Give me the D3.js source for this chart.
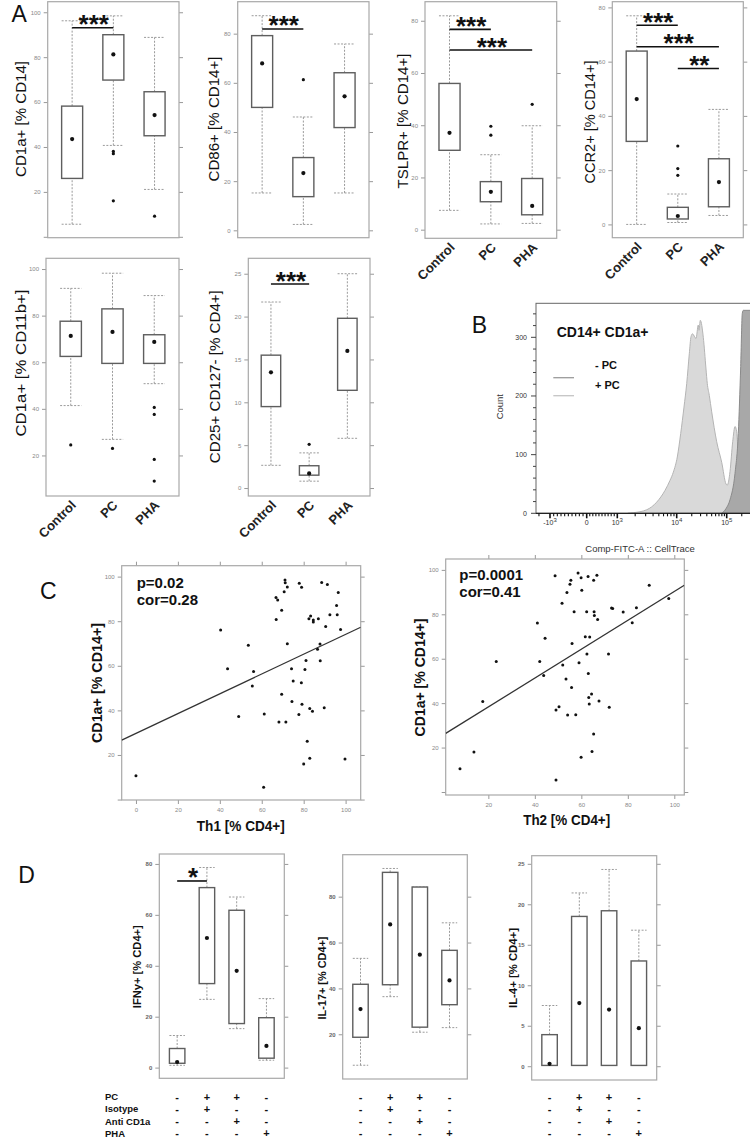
<!DOCTYPE html>
<html><head><meta charset="utf-8">
<script src="https://cdn.jsdelivr.net/npm/d3@7"></script>
<style>body{margin:0;background:#fff}svg{display:block}</style>
</head><body><svg id="c" width="750" height="1139"></svg>
<script>
// ---------------- DATA ----------------
const groupsA = ["Control", "PC", "PHA"];
// five-number summaries: [lower whisker, Q1, median, Q3, upper whisker]
const cd1aCD14Stats = [[5.6, 26, 43.5, 58.2, 96.2], [40.7, 69.8, 81.2, 90, 98.4], [21.1, 45, 54.2, 64.6, 88.8]];
const cd1aCD14Out = [[], [38, 37, 16], [9.2]];
const cd1aCD14Sig = [["Control", "PC", 93.1, "***"]];
const cd86Stats = [[15.2, 50, 67.9, 79.2, 87.3], [2.4, 13.7, 23.3, 29.6, 46.1], [15.2, 41.8, 54.5, 64.1, 75.8]];
const cd86Out = [[], [61.3], []];
const cd86Sig = [["Control", "PC", 81.9, "***"]];
const tslprStats = [[7.4, 30.4, 37.1, 56, 81.9], [2.2, 10.7, 14.5, 18.4, 28.7], [2.4, 5.7, 9.1, 19.6, 39.8]];
const tslprOut = [[], [39.6, 36.2], [48]];
const tslprSig = [["Control", "PC", 76.7, "***"], ["Control", "PHA", 68.8, "***"]];
const ccr2Stats = [[0, 30.6, 46.2, 63.9, 76.9], [0.7, 2, 3.1, 6.3, 11.2], [3.3, 6.5, 15.6, 24.2, 42.4]];
const ccr2Out = [[], [28.9, 20.6, 18.1], []];
const ccr2Sig = [["Control", "PC", 73.4, "***"], ["Control", "PHA", 65.5, "***"], ["PC", "PHA", 57.5, "**"]];
const cd1aCD11bStats = [[41.4, 62.5, 71.3, 77.6, 91.7], [26.9, 59.5, 73, 82.9, 98.2], [50.8, 59.5, 68.7, 71.8, 88.6]];
const cd1aCD11bOut = [[24.5], [23], [40.6, 37.6, 18.3, 9]];
const tregStats = [[2.65, 9.5, 13.5, 15.5, 21.7], [0.8, 1.5, 1.7, 2.6, 4.1], [5.8, 11.4, 16, 19.8, 25]];
const tregOut = [[], [5.1], []];
const tregSig = [["Control", "PC", 23.8, "***"]];

const ticks0to100 = [0, 20, 40, 60, 80, 100];
const ticks0to80 = [0, 20, 40, 60, 80];
const ticks0to25 = [0, 5, 10, 15, 20, 25];

// Panel B: flow histogram (FITC intensity, count)
const plusPcIntensity = [1500, 1858, 3126, 4603, 6353, 7708, 8770, 10280, 12020, 13990, 15850, 17870, 19320, 20700, 24320, 27040, 27930, 29650, 34040, 38550, 40930, 44870, 50120, 63100, 79430, 96830, 102800, 116400, 131800, 146600, 158500, 170600, 193200, 232300, 320600];
const plusPcCount = [0, 1, 6, 19, 39, 56, 70, 96, 136, 181, 221, 272, 301, 306, 298, 321, 312, 329, 300, 246, 221, 201, 173, 122, 87, 50, 48, 71, 122, 148, 139, 99, 80, 60, 40];
const minusPcIntensity = [79430, 96830, 116400, 146600, 170600, 190500, 205100, 214800, 320600];
const minusPcCount = [0, 8, 23, 68, 136, 250, 341, 346, 346];
const bCountTicks = [0, 100, 200, 300];
const bMajorTicks = [-1000, 0, 1000, 10000, 100000];
const bMajorLabels = [["-10", "3"], ["0", ""], ["10", "3"], ["10", "4"], ["10", "5"]];

// Panel C: scatter
const th1X = [0, 40.4, 43.7, 49, 53.6, 55.5, 56.1, 60.9, 61.2, 66.9, 66.8, 67.6, 68.2, 69.5, 69.5, 70.7, 71.2, 71.1, 72.2, 71.5, 72.2, 74.2, 74.4, 75, 77.9, 79, 77.7, 78.9, 79.2, 80.6, 81.1, 81.7, 80, 82.5, 83.3, 84.6, 84.6, 82.9, 84.2, 82.9, 87, 86.6, 87.8, 87.9, 88.6, 91.3, 90.5, 92.5, 89.8, 96.5, 95.7, 96, 97.6, 99.7];
const th1Y = [10.7, 76.1, 58.7, 37.2, 69.2, 50.9, 57.4, 5.5, 38.4, 80.8, 90.6, 89.5, 34.8, 84.9, 47.2, 93.2, 97.3, 98.5, 95.3, 34.8, 69.9, 58.7, 44, 53.2, 97, 95.2, 38.2, 52.4, 42.7, 58.3, 62.4, 26.1, 15.9, 81.1, 82.3, 80.5, 79.6, 40.9, 39.6, 18.5, 81.1, 67.4, 69.8, 62.3, 97.4, 96.5, 77.6, 82.9, 41.2, 92.9, 87, 82.9, 76.3, 18.2];
const th1Fit = [29.7, 0.444]; // intercept, slope
const th2X = [7.8, 13.8, 17.6, 23.4, 41.1, 42.1, 44.4, 48.7, 43.8, 49.1, 50.4, 49.1, 51.7, 52, 53.4, 53.8, 55.1, 55.5, 54.1, 56, 56.9, 55.8, 57.6, 58.6, 59.9, 60.2, 59, 59.9, 61.7, 62.3, 62.4, 62.9, 63, 63.2, 63.4, 63.6, 64.4, 64.6, 65.3, 65.3, 65.5, 65.6, 66.7, 67, 67.6, 71.7, 72, 73, 73.5, 78, 81.9, 83.7, 89.2, 97.6];
const th2Y = [10.5, 18, 40.7, 58.7, 76.1, 58.7, 69.2, 97.4, 52.4, 36.9, 38.4, 5.4, 85, 57.2, 50.9, 89.8, 93.5, 95.3, 34.7, 66.9, 81.1, 47, 34.8, 98.6, 96.5, 90.8, 58.2, 15.6, 69.9, 81.2, 62.1, 97, 53.3, 42.6, 39.6, 69.8, 44.1, 18.2, 26.1, 95.3, 81.2, 79.5, 97.6, 77.7, 41, 62.1, 38.1, 82.8, 82.6, 81, 76.2, 82.9, 93.1, 87.1];
const th2Fit = [25.3, 0.65];

// Panel D
const condGroups = ["g1", "g2", "g3", "g4"];
const condRows = ["PC", "Isotype", "Anti CD1a", "PHA"];
const condSigns = [["-", "+", "+", "-"], ["-", "+", "-", "-"], ["-", "-", "+", "-"], ["-", "-", "-", "+"]];
const ifngStats = [[0.9, 1.7, 2.2, 7.5, 12.6], [26.8, 33, 50.9, 70.7, 78.6], [15.3, 17.3, 38, 61.8, 67], [2.9, 3.7, 8.5, 19.6, 27.1]];
const ifngSig = [["g1", "g2", 73.3, "*"]];
const il17Stats = [[6.5, 18.7, 31, 41.8, 53.1], [36.4, 41.6, 67.9, 90.6, 92.3], [20.9, 23.1, 54.7, 84.2, 84.2], [22.9, 32.9, 43.5, 56.6, 68.6]];
const il4Stats = [[0.1, 0.1, 0.3, 3.9, 7.5], [0.1, 0.1, 7.8, 18.5, 21.4], [0.1, 0.1, 7, 19.2, 24.3], [0.1, 0.1, 4.7, 13, 16.8]];

// ---------------- DRAWING ----------------
const F = '"Liberation Sans", Arial, Helvetica, sans-serif';
const svg = d3.select("#c").attr("font-family", F);

function styleAx(g, size, color, weight) {
  g.attr("font-family", F).attr("font-size", size);
  g.select(".domain").remove();
  g.selectAll(".tick line").attr("stroke", "#999");
  g.selectAll(".tick text").attr("fill", color).attr("font-weight", weight || "normal");
}
function vLabel(text, cx, cy, size, weight, len) {
  svg.append("text").attr("transform", `translate(${cx},${cy}) rotate(-90)`)
    .attr("text-anchor", "middle").attr("dominant-baseline", "central")
    .attr("font-size", size).attr("font-weight", weight).attr("fill", "#111")
    .attr("textLength", len).attr("lengthAdjust", "spacingAndGlyphs").text(text);
}
function panelLetter(t, x, y) {
  svg.append("text").attr("x", x).attr("y", y).attr("font-size", 23).attr("fill", "#111").text(t);
}

function boxPanel(c) {
  const [x0, y0, x1, y1] = c.frame;
  const x = d3.scalePoint().domain(c.cats).range([x0, x1]).padding(c.pad);
  const y = d3.scaleLinear().domain(c.domain).range([y1, y0]);
  const bw = x.step() * c.bw;
  const g = svg.append("g");
  g.append("g").attr("transform", `translate(${x0},0)`)
    .call(d3.axisLeft(y).tickValues(c.ticks).tickSize(4).tickPadding(3)
      .tickFormat(d => (c.noLabel || []).includes(d) ? "" : d))
    .call(s => styleAx(s, c.tickFont || 6, c.tickColor || "#888", c.tickWeight));
  g.append("g").attr("transform", `translate(${x1},0)`)
    .call(d3.axisRight(y).tickValues(c.ticks).tickSize(4).tickFormat(""))
    .call(s => styleAx(s, 6, "#888"));
  g.append("rect").attr("x", x0).attr("y", y0).attr("width", x1 - x0).attr("height", y1 - y0)
    .attr("fill", "none").attr("stroke", "#a8a8a8").attr("stroke-width", 1.2);
  const dash = "2,1.5";
  c.stats.forEach((s, i) => {
    const cx = x(c.cats[i]);
    const wl = (a, b) => g.append("line").attr("x1", cx).attr("x2", cx).attr("y1", y(a)).attr("y2", y(b))
      .attr("stroke", "#9a9a9a").attr("stroke-dasharray", dash);
    wl(s[0], s[1]); wl(s[3], s[4]);
    [s[0], s[4]].forEach(v => g.append("line").attr("x1", cx - bw / 2).attr("x2", cx + bw / 2)
      .attr("y1", y(v)).attr("y2", y(v)).attr("stroke", "#9a9a9a").attr("stroke-dasharray", dash));
    g.append("rect").attr("x", cx - bw / 2).attr("y", y(s[3])).attr("width", bw)
      .attr("height", Math.max(0.5, y(s[1]) - y(s[3])))
      .attr("fill", "#fff").attr("stroke", "#5e5e5e").attr("stroke-width", 1.4);
    g.append("circle").attr("cx", cx).attr("cy", y(s[2])).attr("r", 2.1).attr("fill", "#111");
    ((c.outs || [])[i] || []).forEach(v => g.append("circle").attr("cx", cx).attr("cy", y(v)).attr("r", 1.6).attr("fill", "#111"));
  });
  (c.sig || []).forEach(([a, b, v, lab]) => {
    const yy = y(v);
    g.append("line").attr("x1", x(a)).attr("x2", x(b)).attr("y1", yy).attr("y2", yy)
      .attr("stroke", "#111").attr("stroke-width", 1.6);
    g.append("text").attr("x", (x(a) + x(b)) / 2 + 1).attr("y", yy + 5.5).attr("text-anchor", "middle")
      .attr("font-size", 26).attr("font-weight", "bold").attr("fill", "#111").text(lab);
  });
  if (c.xlab) c.cats.forEach(cat => g.append("text")
    .attr("transform", `translate(${x(cat) + 6},${y1 + 10}) rotate(-45)`)
    .attr("text-anchor", "end").attr("font-size", 13).attr("font-weight", "bold").attr("fill", "#222").text(cat));
  const L = c.label;
  vLabel(L[0], L[1], L[2], L[3], L[4], L[5]);
  return x;
}

// ---- Panel A ----
panelLetter("A", 11.5, 21.7);
boxPanel({cats: groupsA, stats: cd1aCD14Stats, outs: cd1aCD14Out, sig: cd1aCD14Sig, frame: [47.7, 1.7, 179, 237.7],
  domain: [-0.4, 104.7], ticks: ticks0to100, noLabel: [0], pad: 0.593, bw: 0.51,
  label: ["CD1a+ [% CD14]", 20.8, 119, 15, "normal", 116]});
boxPanel({cats: groupsA, stats: cd86Stats, outs: cd86Out, sig: cd86Sig, frame: [237.7, 1.7, 369, 237.7],
  domain: [-3, 93], ticks: ticks0to80, pad: 0.593, bw: 0.51,
  label: ["CD86+ [% CD14+]", 213.3, 119, 15, "normal", 125]});
boxPanel({cats: groupsA, stats: tslprStats, outs: tslprOut, sig: tslprSig, frame: [425, 1.7, 556.7, 238.3],
  domain: [-3.3, 87.3], ticks: ticks0to80, pad: 0.593, bw: 0.51, xlab: true,
  label: ["TSLPR+ [% CD14+]", 402, 121, 15, "normal", 135]});
boxPanel({cats: groupsA, stats: ccr2Stats, outs: ccr2Out, sig: ccr2Sig, frame: [612.3, 1.7, 743.3, 237.7],
  domain: [-4.9, 82.1], ticks: ticks0to80, pad: 0.593, bw: 0.51, xlab: true,
  label: ["CCR2+ [% CD14+]", 589, 122, 15, "normal", 123]});
boxPanel({cats: groupsA, stats: cd1aCD11bStats, outs: cd1aCD11bOut, frame: [46, 258.3, 179, 496],
  domain: [2.6, 104.6], ticks: [20, 40, 60, 80, 100], pad: 0.593, bw: 0.51, xlab: true,
  label: ["CD1a+ [% CD11b+]", 20, 363, 15, "normal", 147]});
boxPanel({cats: groupsA, stats: tregStats, outs: tregOut, sig: tregSig, frame: [248.3, 258.3, 370, 496],
  domain: [-0.93, 26.8], ticks: ticks0to25, pad: 0.593, bw: 0.51, xlab: true,
  label: ["CD25+ CD127- [% CD4+]", 214, 376.7, 15, "normal", 173]});

// ---- Panel B ----
panelLetter("B", 471.7, 333.3);
(function () {
  const fr = [536, 303.3, 760, 513.3];
  const disp = v => Math.abs(v) <= 1000 ? v / 1000 : Math.sign(v) * (1 + Math.log10(Math.abs(v) / 1000));
  const bx = d3.scaleLinear().domain([-1, 0, 1, 2, 3]).range([550, 586.7, 617.3, 676.7, 726.7]);
  const by = d3.scaleLinear().domain([0, 358]).range([fr[3], fr[1]]);
  const g = svg.append("g");
  g.append("clipPath").attr("id", "bclip").append("rect")
    .attr("x", fr[0]).attr("y", fr[1]).attr("width", fr[2] - fr[0]).attr("height", fr[3] - fr[1]);
  const area = d3.area().x(d => bx(disp(d[0]))).y0(by(0)).y1(d => by(d[1])).curve(d3.curveMonotoneX);
  const plus = plusPcIntensity.map((v, i) => [v, plusPcCount[i]]);
  const minus = minusPcIntensity.map((v, i) => [v, minusPcCount[i]]);
  const hg = g.append("g").attr("clip-path", "url(#bclip)");
  hg.append("path").datum(plus).attr("d", area).attr("fill", "#d9d9d9").attr("stroke", "#b4b4b4").attr("stroke-width", 1);
  hg.append("path").datum(minus).attr("d", area).attr("fill", "#a8a8a8").attr("stroke", "#8a8a8a").attr("stroke-width", 1);
  g.append("rect").attr("x", fr[0]).attr("y", fr[1]).attr("width", fr[2] - fr[0]).attr("height", fr[3] - fr[1])
    .attr("fill", "none").attr("stroke", "#666").attr("stroke-width", 1);
  g.append("line").attr("x1", fr[0]).attr("x2", fr[2]).attr("y1", fr[3]).attr("y2", fr[3]).attr("stroke", "#222").attr("stroke-width", 1.2);
  // y axis
  const minorY = d3.range(0, 358, 20);
  g.selectAll(".bym").data(minorY).join("line").attr("x1", fr[0]).attr("x2", d => fr[0] - (bCountTicks.includes(d) ? 5 : 3))
    .attr("y1", d => by(d)).attr("y2", d => by(d)).attr("stroke", "#444");
  g.selectAll(".byl").data(bCountTicks).join("text").attr("x", fr[0] - 9).attr("y", d => by(d) + 2.5)
    .attr("text-anchor", "end").attr("font-size", 7).attr("fill", "#333").text(d => d);
  // x axis
  const minorX = [-2000, ...d3.range(-900, 1000, 100).filter(v => v !== 0), ...d3.range(2000, 10000, 1000),
    ...d3.range(20000, 100000, 10000), 200000];
  g.selectAll(".bxm").data(minorX).join("line").attr("x1", d => bx(disp(d))).attr("x2", d => bx(disp(d)))
    .attr("y1", fr[3]).attr("y2", fr[3] + 3).attr("stroke", "#111").attr("stroke-width", 1.1);
  g.selectAll(".bxM").data(bMajorTicks).join("line").attr("x1", d => bx(disp(d))).attr("x2", d => bx(disp(d)))
    .attr("y1", fr[3]).attr("y2", fr[3] + 5).attr("stroke", "#111").attr("stroke-width", 1.6);
  bMajorTicks.forEach((v, i) => {
    const t = g.append("text").attr("x", bx(disp(v))).attr("y", 525).attr("text-anchor", "middle")
      .attr("font-size", 7).attr("fill", "#333");
    t.append("tspan").text(bMajorLabels[i][0]);
    if (bMajorLabels[i][1]) t.append("tspan").attr("dy", -3.5).attr("font-size", 6).text(bMajorLabels[i][1]);
  });
  svg.append("text").attr("x", 640).attr("y", 551.5).attr("text-anchor", "middle").attr("font-size", 9.5)
    .attr("fill", "#333").text("Comp-FITC-A :: CellTrace");
  svg.append("text").attr("transform", "translate(499,406.7) rotate(-90)").attr("text-anchor", "middle")
    .attr("dominant-baseline", "central").attr("font-size", 9.5).attr("fill", "#333").text("Count");
  svg.append("text").attr("x", 556.7).attr("y", 336.5).attr("font-size", 14).attr("font-weight", "bold").attr("fill", "#111").text("CD14+ CD1a+");
  svg.append("text").attr("x", 595).attr("y", 369).attr("font-size", 11).attr("font-weight", "bold").attr("fill", "#111").text("- PC");
  svg.append("text").attr("x", 595).attr("y", 388.5).attr("font-size", 11).attr("font-weight", "bold").attr("fill", "#111").text("+ PC");
  svg.append("line").attr("x1", 553.3).attr("x2", 574).attr("y1", 377.7).attr("y2", 377.7).attr("stroke", "#9a9a9a").attr("stroke-width", 1.3);
  svg.append("line").attr("x1", 553.3).attr("x2", 574).attr("y1", 395.7).attr("y2", 395.7).attr("stroke", "#c4c4c4").attr("stroke-width", 1.3);
})();

// ---- Panel C ----
panelLetter("C", 40, 599.3);
function scatter(c) {
  const [x0, y0, x1, y1] = c.frame;
  const x = d3.scaleLinear().domain(c.xd).range([x0, x1]);
  const y = d3.scaleLinear().domain(c.yd).range([y1, y0]);
  const g = svg.append("g");
  g.append("g").attr("transform", `translate(${x0},0)`).call(d3.axisLeft(y).tickValues(c.yt).tickSize(4).tickPadding(3)
    .tickFormat(d => d === 0 ? "" : d)).call(s => styleAx(s, 6, "#888"));
  g.append("g").attr("transform", `translate(${x1},0)`).call(d3.axisRight(y).tickValues(c.yt).tickSize(4).tickFormat(""))
    .call(s => styleAx(s, 6, "#888"));
  g.append("g").attr("transform", `translate(0,${y1})`).call(d3.axisBottom(x).tickValues(c.xt).tickSize(4).tickPadding(4))
    .call(s => styleAx(s, 6, "#888"));
  g.append("g").attr("transform", `translate(0,${y0})`).call(d3.axisTop(x).tickValues(c.xt).tickSize(4).tickFormat(""))
    .call(s => styleAx(s, 6, "#888"));
  g.append("rect").attr("x", x0).attr("y", y0).attr("width", x1 - x0).attr("height", y1 - y0)
    .attr("fill", "none").attr("stroke", "#a8a8a8").attr("stroke-width", 1.2);
  const id = "clip" + Math.round(x0);
  g.append("clipPath").attr("id", id).append("rect").attr("x", x0).attr("y", y0).attr("width", x1 - x0).attr("height", y1 - y0);
  const [a, b] = c.fit;
  g.append("line").attr("clip-path", `url(#${id})`).attr("x1", x(c.xd[0])).attr("x2", x(c.xd[1]))
    .attr("y1", y(a + b * c.xd[0])).attr("y2", y(a + b * c.xd[1])).attr("stroke", "#333").attr("stroke-width", 1.3);
  g.selectAll(".pt").data(c.xs).join("circle").attr("cx", d => x(d)).attr("cy", (d, i) => y(c.ys[i]))
    .attr("r", 1.5).attr("fill", "#111");
  g.append("text").attr("x", c.tx).attr("y", c.ty).attr("font-size", 15).attr("font-weight", "bold").attr("fill", "#111").text(c.t1);
  g.append("text").attr("x", c.tx).attr("y", c.ty + 16.5).attr("font-size", 15).attr("font-weight", "bold").attr("fill", "#111").text(c.t2);
  vLabel(c.ylab[0], c.ylab[1], c.ylab[2], 14, "bold", c.ylab[3]);
  svg.append("text").attr("x", c.xlab[1]).attr("y", c.xlab[2]).attr("text-anchor", "middle").attr("dominant-baseline", "central")
    .attr("font-size", 14).attr("font-weight", "bold").attr("fill", "#111")
    .attr("textLength", c.xlab[3]).attr("lengthAdjust", "spacingAndGlyphs").text(c.xlab[0]);
}
scatter({frame: [121.7, 565.7, 360.7, 800], xd: [-6.8, 107.2], yd: [-0.2, 104.9], xt: [0, 20, 40, 60, 80, 100],
  yt: [0, 20, 40, 60, 80, 100], xs: th1X, ys: th1Y, fit: th1Fit, t1: "p=0.02", t2: "cor=0.28", tx: 136.7, ty: 588.3,
  ylab: ["CD1a+ [% CD14+]", 96.7, 683, 120], xlab: ["Th1 [% CD4+]", 240.8, 826, 88]});
scatter({frame: [445.7, 559, 684.3, 795], xd: [1.65, 104.3], yd: [-1.35, 104.9], xt: [20, 40, 60, 80, 100],
  yt: [0, 20, 40, 60, 80, 100], xs: th2X, ys: th2Y, fit: th2Fit, t1: "p=0.0001", t2: "cor=0.41", tx: 459.3, ty: 580,
  ylab: ["CD1a+ [% CD14+]", 420, 677.5, 118], xlab: ["Th2 [% CD4+]", 566.7, 820, 87]});

// ---- Panel D ----
panelLetter("D", 18.3, 883.3);
const dOpts = {cats: condGroups, pad: 0.6, bw: 0.52, tickFont: 6, tickColor: "#666", tickWeight: "bold"};
const xD1 = boxPanel(Object.assign({}, dOpts, {stats: ifngStats, sig: ifngSig, frame: [159.3, 854, 284.3, 1078.3],
  domain: [-4.2, 83.9], ticks: ticks0to80, label: ["IFNy+ [% CD4+]", 136.7, 966.7, 11, "bold", 83]}));
const xD2 = boxPanel(Object.assign({}, dOpts, {stats: il17Stats, frame: [342.7, 854.7, 467.3, 1079],
  domain: [0.5, 98.3], ticks: [20, 40, 60, 80], label: ["IL-17+ [% CD4+]", 321.7, 978, 11, "bold", 83]}));
const xD3 = boxPanel(Object.assign({}, dOpts, {stats: il4Stats, frame: [531.7, 855.7, 656.7, 1080],
  domain: [-1.7, 26], ticks: ticks0to25, label: ["IL-4+ [% CD4+]", 513.3, 968, 11, "bold", 80]}));

const rowY = d3.scalePoint().domain(condRows).range([1096.7, 1133.3]);
condRows.forEach((r, ri) => {
  svg.append("text").attr("x", 105).attr("y", rowY(r)).attr("dominant-baseline", "central")
    .attr("font-size", 9.5).attr("font-weight", "bold").attr("fill", "#111").text(r);
  [xD1, xD2, xD3].forEach(xs => condGroups.forEach((gname, gi) => {
    svg.append("text").attr("x", xs(gname)).attr("y", rowY(r)).attr("dominant-baseline", "central")
      .attr("text-anchor", "middle").attr("font-size", 11).attr("font-weight", "bold").attr("fill", "#111")
      .text(condSigns[ri][gi]);
  }));
});
</script></body></html>
